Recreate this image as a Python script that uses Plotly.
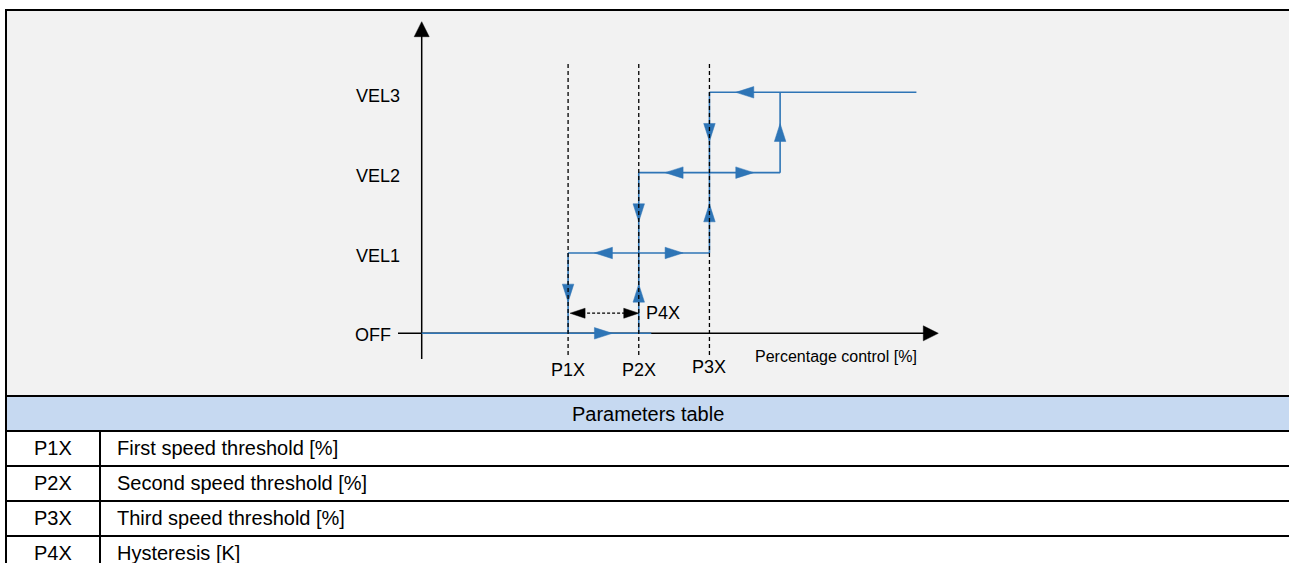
"""
Fan speed hysteresis diagram with its parameters table.
Three speed steps (VEL1..VEL3) switched by percentage control thresholds.
"""

import plotly.graph_objects as go

# ---- data -----------------------------------------------------------------
P1X = 29          # first speed threshold [%]
P2X = 43          # second speed threshold [%]
P3X = 57          # third speed threshold [%]
P4X = 14          # hysteresis [K]
X_END = 98        # right end of the drawn control range

LEVEL_NAMES = ["OFF", "VEL1", "VEL2", "VEL3"]
LEVEL_VALUES = [0, 1, 2, 3]
THRESHOLD_NAMES = ["P1X", "P2X", "P3X"]
THRESHOLD_VALUES = [P1X, P2X, P3X]

# switching points: going up (step k -> k+1) and going down (step k+1 -> k)
RISE = [P2X, P3X, P3X + P4X]
FALL = [P1X, P2X, P3X]

PARAM_CODES = ["P1X", "P2X", "P3X", "P4X"]
PARAM_DESCRIPTIONS = [
    "First speed threshold [%]",
    "Second speed threshold [%]",
    "Third speed threshold [%]",
    "Hysteresis [K]",
]
TABLE_TITLE = "Parameters table"
X_TITLE = "Percentage control [%]"

# ---- layout constants (pixels) ---------------------------------------------
W, H = 1289, 563
X0_PX = 421.7        # pixel column of control = 0
PX_PER_X = 5.048
Y0_PX = 333.3        # pixel row of OFF
PX_PER_LEVEL = 80.33

BLUE = "#2e75b6"
BLACK = "#000000"
PANEL = "#f2f2f2"
HEADER = "#c6d9f1"
FONT = "Liberation Sans, Arial, sans-serif"


def dx(px):
    return px / PX_PER_X


def dy(px):
    return px / PX_PER_LEVEL


def px_x(px):
    return px / W


def px_y(py):
    return 1 - py / H


def triangle(x, y, direction, length, width):
    """Polygon of an arrowhead centred on (x, y), sizes in pixels."""
    hl, hw = length / 2, width / 2
    if direction == "r":
        pts = [(hl, 0), (-hl, hw), (-hl, -hw)]
    elif direction == "l":
        pts = [(-hl, 0), (hl, hw), (hl, -hw)]
    elif direction == "u":
        pts = [(0, hl), (-hw, -hl), (hw, -hl)]
    else:
        pts = [(0, -hl), (-hw, hl), (hw, hl)]
    xs = [x + dx(p[0]) for p in pts] + [x + dx(pts[0][0]), None]
    ys = [y + dy(p[1]) for p in pts] + [y + dy(pts[0][1]), None]
    return xs, ys


fig = go.Figure()

# ---- axes drawn as arrows ---------------------------------------------------
y_bottom = dy(Y0_PX - 359)
y_top = dy(Y0_PX - 21.7)
x_left = dx(398 - X0_PX)
x_right = dx(938.3 - X0_PX)
fig.add_trace(go.Scatter(
    x=[0, 0, None, x_left, x_right - dx(14)],
    y=[y_bottom, y_top - dy(14), None, 0, 0],
    mode="lines", line=dict(color=BLACK, width=1.5), hoverinfo="skip",
))
ax_x, ax_y = triangle(0, y_top - dy(7.5), "u", 15, 15)
bx, by = triangle(x_right - dx(7.5), 0, "r", 15, 15)
fig.add_trace(go.Scatter(
    x=ax_x + bx, y=ax_y + by, mode="lines", fill="toself",
    fillcolor=BLACK, line=dict(color=BLACK, width=0.5), hoverinfo="skip",
))

# ---- hysteresis path --------------------------------------------------------
path_x, path_y = [], []
for k in LEVEL_VALUES:
    start = 0 if k == 0 else FALL[k - 1]
    end = RISE[k] + dx(12.5) if k == 0 else (X_END if k == 3 else RISE[k])
    path_x += [start, end, None]
    path_y += [k, k, None]
for k in range(3):
    path_x += [RISE[k], RISE[k], None, FALL[k], FALL[k], None]
    path_y += [k, k + 1, None, k, k + 1, None]
fig.add_trace(go.Scatter(
    x=path_x, y=path_y, mode="lines",
    line=dict(color=BLUE, width=1.6), hoverinfo="skip",
))

arrow_x, arrow_y = [], []
for k in range(3):
    mid = (FALL[k] + RISE[k]) / 2
    for x, y, d in [(mid, k, "r"), (mid, k + 1, "l"),
                    (RISE[k], k + 0.5, "u"), (FALL[k], k + 0.5, "d")]:
        tx, ty = triangle(x, y, d, 18, 11.5)
        arrow_x += tx
        arrow_y += ty
fig.add_trace(go.Scatter(
    x=arrow_x, y=arrow_y, mode="lines", fill="toself",
    fillcolor=BLUE, line=dict(color=BLUE, width=0.5), hoverinfo="skip",
))

# ---- threshold guides ---------------------------------------------------------
guide_x, guide_y = [], []
for t in THRESHOLD_VALUES:
    guide_x += [t, t, None]
    guide_y += [dy(Y0_PX - 355), dy(Y0_PX - 61.5), None]
fig.add_trace(go.Scatter(
    x=guide_x, y=guide_y, mode="lines",
    line=dict(color=BLACK, width=1.3, dash="4px,3px"), hoverinfo="skip",
))

# ---- hysteresis dimension (P4X) ----------------------------------------------
dim_y = 0.25
fig.add_trace(go.Scatter(
    x=[P1X + dx(14), P2X - dx(14)], y=[dim_y, dim_y], mode="lines",
    line=dict(color=BLACK, width=1.3, dash="3px,2px"), hoverinfo="skip",
))
hx1, hy1 = triangle(P1X + dx(2) + dx(7.5), dim_y, "l", 15, 10)
hx2, hy2 = triangle(P2X - dx(7.5), dim_y, "r", 15, 10)
fig.add_trace(go.Scatter(
    x=hx1 + hx2, y=hy1 + hy2, mode="lines", fill="toself",
    fillcolor=BLACK, line=dict(color=BLACK, width=0.5), hoverinfo="skip",
))

# ---- labels -------------------------------------------------------------------
annotations = []
for name, lvl in zip(LEVEL_NAMES, LEVEL_VALUES):
    annotations.append(dict(
        x=0, y=lvl, text=name, showarrow=False, xanchor="right", yanchor="middle",
        xshift=-28.7 if lvl == 0 else -19.7, yshift=-1.5 if lvl == 0 else -3.5,
        font=dict(size=18, color=BLACK),
    ))
for name, t in zip(THRESHOLD_NAMES, THRESHOLD_VALUES):
    annotations.append(dict(
        x=t, y=0, text=name, showarrow=False, xanchor="center", yanchor="middle",
        yshift=-34 if name == "P3X" else -37, font=dict(size=18, color=BLACK),
    ))
annotations.append(dict(
    x=P2X, y=dim_y, text="P4X", showarrow=False, xanchor="left", yanchor="middle",
    xshift=5, font=dict(size=18, color=BLACK),
))
annotations.append(dict(
    x=x_right, y=0, text=X_TITLE, showarrow=False, xanchor="right", yanchor="middle",
    xshift=-19, yshift=-23.5, font=dict(size=16, color=BLACK),
))

# ---- panel frame and parameters table ----------------------------------------
shapes = [
    dict(type="rect", xref="paper", yref="paper", layer="below",
         x0=px_x(6), x1=1, y0=px_y(396), y1=px_y(10),
         fillcolor=PANEL, line=dict(width=0)),
    dict(type="rect", xref="paper", yref="paper", layer="below",
         x0=px_x(6), x1=1, y0=px_y(431), y1=px_y(396),
         fillcolor=HEADER, line=dict(width=0)),
]
line_rows = [10, 396, 431, 466, 501, 536]
for r in line_rows:
    shapes.append(dict(type="line", xref="paper", yref="paper",
                       x0=px_x(5), x1=1, y0=px_y(r), y1=px_y(r),
                       line=dict(color=BLACK, width=2)))
shapes.append(dict(type="line", xref="paper", yref="paper",
                   x0=px_x(6), x1=px_x(6), y0=0, y1=px_y(9),
                   line=dict(color=BLACK, width=2)))
shapes.append(dict(type="line", xref="paper", yref="paper",
                   x0=px_x(100), x1=px_x(100), y0=0, y1=px_y(431),
                   line=dict(color=BLACK, width=2)))

annotations.append(dict(
    xref="paper", yref="paper", x=px_x(648), y=px_y(413.5), text=TABLE_TITLE,
    showarrow=False, xanchor="center", yanchor="middle",
    font=dict(size=20, color=BLACK),
))
for i, (code, desc) in enumerate(zip(PARAM_CODES, PARAM_DESCRIPTIONS)):
    row_mid = 448 + 35 * i
    annotations.append(dict(
        xref="paper", yref="paper", x=px_x(53), y=px_y(row_mid), text=code,
        showarrow=False, xanchor="center", yanchor="middle",
        font=dict(size=20, color=BLACK),
    ))
    annotations.append(dict(
        xref="paper", yref="paper", x=px_x(115), y=px_y(row_mid), text=desc,
        showarrow=False, xanchor="left", yanchor="middle",
        font=dict(size=20, color=BLACK),
    ))

fig.update_layout(
    width=W, height=H, autosize=False,
    margin=dict(l=0, r=0, t=0, b=0, pad=0),
    paper_bgcolor="white", plot_bgcolor="rgba(0,0,0,0)",
    showlegend=False,
    font=dict(family=FONT, color=BLACK),
    xaxis=dict(range=[dx(-X0_PX), dx(W - X0_PX)], visible=False, fixedrange=True),
    yaxis=dict(range=[dy(Y0_PX - H), dy(Y0_PX)], visible=False, fixedrange=True),
    shapes=shapes,
    annotations=annotations,
)

fig.write_html(
    "out.html",
    config={"displayModeBar": False},
    post_script="document.body.style.margin='0';document.body.style.overflow='hidden';",
)
